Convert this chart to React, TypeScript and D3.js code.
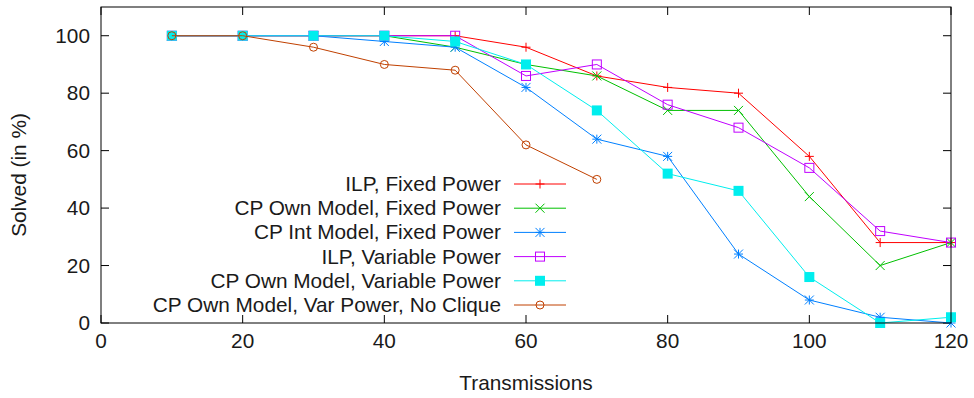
import React from "react";
import * as d3 from "d3";

const xs = [10, 20, 30, 40, 50, 60, 70, 80, 90, 100, 110, 120];
const ilpFixed = [100, 100, 100, 100, 100, 96, 86, 82, 80, 58, 28, 28];
const cpOwnFixed = [100, 100, 100, 100, 96, 90, 86, 74, 74, 44, 20, 28];
const cpIntFixed = [100, 100, 100, 98, 96, 82, 64, 58, 24, 8, 2, 0];
const ilpVar = [100, 100, 100, 100, 100, 86, 90, 76, 68, 54, 32, 28];
const cpOwnVar = [100, 100, 100, 100, 98, 90, 74, 52, 46, 16, 0, 2];
const noClique = [100, 100, 96, 90, 88, 62, 50];

const xTicks = [0, 20, 40, 60, 80, 100, 120];
const yTicks = [0, 20, 40, 60, 80, 100];

const series = [
  { name: "ILP, Fixed Power", values: ilpFixed, color: "#ff0000", marker: "plus" },
  { name: "CP Own Model, Fixed Power", values: cpOwnFixed, color: "#00c000", marker: "cross" },
  { name: "CP Int Model, Fixed Power", values: cpIntFixed, color: "#0080ff", marker: "star" },
  { name: "ILP, Variable Power", values: ilpVar, color: "#c000ff", marker: "square" },
  { name: "CP Own Model, Variable Power", values: cpOwnVar, color: "#00eeee", marker: "fsquare" },
  { name: "CP Own Model, Var Power, No Clique", values: noClique, color: "#c04000", marker: "circle" },
];

const W = 974, H = 398;
const L = 101, R = 951, T = 7, B = 323;
const font = "Liberation Sans, Arial, sans-serif";
const fs = 20.8;

function Marker({ type, x, y, color }: { type: string; x: number; y: number; color: string }) {
  const s = 4.5;
  if (type === "plus")
    return <path d={`M${x - s},${y}H${x + s}M${x},${y - s}V${y + s}`} stroke={color} strokeWidth={1} fill="none" />;
  if (type === "cross")
    return <path d={`M${x - s},${y - s}L${x + s},${y + s}M${x - s},${y + s}L${x + s},${y - s}`} stroke={color} strokeWidth={1} fill="none" />;
  if (type === "star")
    return <path d={`M${x - s},${y}H${x + s}M${x},${y - s}V${y + s}M${x - s},${y - s}L${x + s},${y + s}M${x - s},${y + s}L${x + s},${y - s}`} stroke={color} strokeWidth={1} fill="none" />;
  if (type === "square")
    return <rect x={x - s} y={y - s} width={2 * s} height={2 * s} stroke={color} strokeWidth={1} fill="none" />;
  if (type === "fsquare")
    return <rect x={x - s - 0.5} y={y - s - 0.5} width={2 * s + 1} height={2 * s + 1} fill={color} />;
  return <circle cx={x} cy={y} r={4} stroke={color} strokeWidth={1} fill="none" />;
}

export default function App() {
  const x = d3.scaleLinear().domain([0, 120]).range([L, R]);
  const y = d3.scaleLinear().domain([0, 110]).range([B, T]);
  const line = d3.line<number>();
  const legX = 501, legY0 = 184, legDy = 24.2;
  return (
    <svg width={W} height={H} style={{ position: "absolute", left: 0, top: 0, background: "#fff" }}>
      <rect x={0} y={0} width={W} height={H} fill="#fff" />
      {xTicks.map((t) => (
        <g key={"x" + t}>
          <line x1={x(t)} x2={x(t)} y1={B} y2={B - 8} stroke="#000" />
          <line x1={x(t)} x2={x(t)} y1={T} y2={T + 8} stroke="#000" />
          <text x={x(t)} y={348} textAnchor="middle" fontFamily={font} fontSize={fs} fill="#1a1a1a">{t}</text>
        </g>
      ))}
      {yTicks.map((t) => (
        <g key={"y" + t}>
          <line x1={L} x2={L + 8} y1={y(t)} y2={y(t)} stroke="#000" />
          <line x1={R} x2={R - 8} y1={y(t)} y2={y(t)} stroke="#000" />
          <text x={90} y={y(t) + 7} textAnchor="end" fontFamily={font} fontSize={fs} fill="#1a1a1a">{t}</text>
        </g>
      ))}
      {series.map((s) => {
        const pts = s.values.map((v, i) => [x(xs[i]), y(v)] as [number, number]);
        return (
          <g key={s.name}>
            <path d={line(pts as any) || ""} stroke={s.color} strokeWidth={1} fill="none" />
            {pts.map((p, i) => (
              <Marker key={i} type={s.marker} x={p[0]} y={p[1]} color={s.color} />
            ))}
          </g>
        );
      })}
      {series.map((s, i) => {
        const ly = legY0 + i * legDy;
        return (
          <g key={"leg" + i}>
            <text x={legX} y={ly + 7} textAnchor="end" fontFamily={font} fontSize={fs} fill="#1a1a1a">{s.name}</text>
            <line x1={514} x2={566} y1={ly} y2={ly} stroke={s.color} strokeWidth={1} />
            <Marker type={s.marker} x={540} y={ly} color={s.color} />
          </g>
        );
      })}
      <rect x={L} y={T} width={R - L} height={B - T} fill="none" stroke="#000" strokeWidth={1} />
      <text x={526} y={390} textAnchor="middle" fontFamily={font} fontSize={fs} fill="#1a1a1a">Transmissions</text>
      <text transform={`translate(26,${(T + B) / 2 + 10}) rotate(-90)`} textAnchor="middle" fontFamily={font} fontSize={fs} fill="#1a1a1a">Solved (in %)</text>
    </svg>
  );
}
